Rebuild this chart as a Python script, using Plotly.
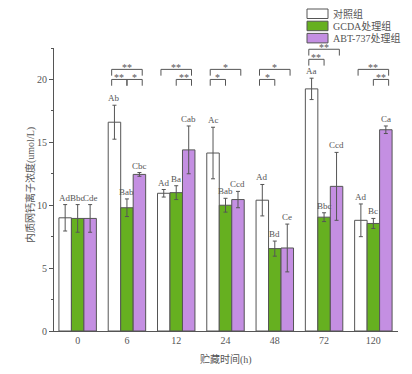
import plotly.graph_objects as go

# ---- data ----
times = ["0", "6", "12", "24", "48", "72", "120"]
series_names = ["对照组", "GCDA处理组", "ABT-737处理组"]

ctrl = [9.0, 16.6, 10.95, 14.15, 10.4, 19.25, 8.8]
ctrl_err = [1.05, 1.35, 0.3, 2.05, 1.25, 0.85, 1.3]
gcda = [8.95, 9.8, 11.0, 10.0, 6.55, 9.05, 8.55]
gcda_err = [1.1, 0.7, 0.55, 0.55, 0.6, 0.35, 0.4]
abt = [8.95, 12.45, 14.4, 10.45, 6.6, 11.5, 16.0]
abt_err = [1.1, 0.15, 1.9, 0.65, 1.9, 2.7, 0.3]

ctrl_letters = ["Ad", "Ab", "Ad", "Ac", "Ad", "Aa", "Ad"]
gcda_letters = ["Bbc", "Bab", "Ba", "Bab", "Bd", "Bbc", "Bc"]
abt_letters = ["Cde", "Cbc", "Cab", "Ccd", "Ce", "Ccd", "Ca"]

# significance brackets: group index, level (0 lower / 1 upper), bar i, bar j, label
br_group = [1, 1, 1, 2, 2, 3, 3, 4, 4, 5, 5, 6, 6]
br_level = [1, 0, 0, 1, 0, 1, 0, 1, 0, 1, 0, 1, 0]
br_i = [0, 0, 1, 0, 1, 0, 0, 0, 0, 0, 0, 0, 1]
br_j = [2, 1, 2, 2, 2, 2, 1, 2, 1, 2, 1, 2, 2]
br_label = ["**", "**", "*", "**", "**", "*", "*", "*", "*", "**", "**", "**", "**"]

# ---- styles ----
GRAY = "#555555"
FONT = "Liberation Serif, Noto Sans CJK SC"
fills = ["#ffffff", "#66b020", "#c48fe2"]
values = [ctrl, gcda, abt]
errors = [ctrl_err, gcda_err, abt_err]
letters = [ctrl_letters, gcda_letters, abt_letters]

x_idx = list(range(len(times)))
bargap = 0.24
bw = (1 - bargap) / 3
offsets = [-bw, 0.0, bw]

fig = go.Figure()
for k in range(3):
    fig.add_trace(go.Bar(
        x=x_idx, y=values[k], name=series_names[k],
        marker=dict(color=fills[k], line=dict(color=GRAY, width=1)),
        error_y=dict(type="data", array=errors[k], color=GRAY, thickness=1, width=2),
        showlegend=False, hoverinfo="skip",
    ))

annotations = []
shapes = []

# letters above error bars
for k in range(3):
    for g in x_idx:
        annotations.append(dict(
            x=g + offsets[k], y=values[k][g] + errors[k][g], xref="x", yref="y",
            text=letters[k][g], showarrow=False, yanchor="bottom", yshift=0,
            font=dict(family=FONT, size=9, color=GRAY)))

# brackets
ends = [-0.31, 0.0, 0.31]
leg = 0.5
for n in range(len(br_group)):
    g = br_group[n]
    top = max(values[k][g] + errors[k][g] for k in range(3))
    base = max(20.0, top + 1.5)
    y = base + 0.8 * br_level[n]
    x0 = g + ends[br_i[n]]
    x1 = g + ends[br_j[n]]
    shapes.append(dict(type="path", xref="x", yref="y",
                       path=f"M {x0},{y-leg} L {x0},{y} L {x1},{y} L {x1},{y-leg}",
                       line=dict(color=GRAY, width=1)))
    annotations.append(dict(x=(x0 + x1) / 2, y=y, xref="x", yref="y", text=br_label[n],
                            showarrow=False, yanchor="middle", yshift=2,
                            font=dict(family=FONT, size=10, color=GRAY)))

# manual legend (paper coords)
plot_l, plot_r, plot_t, plot_b = 54, 398, 48, 331
W, H = plot_r - plot_l, plot_b - plot_t
def px(xp):
    return (xp - plot_l) / W
def py(yp):
    return (plot_b - yp) / H
for k in range(3):
    y0 = 9 + 12.2 * k
    shapes.append(dict(type="rect", xref="paper", yref="paper",
                       x0=px(307), x1=px(328), y0=py(y0 + 9.5), y1=py(y0),
                       fillcolor=fills[k], line=dict(color=GRAY, width=1)))
    annotations.append(dict(x=px(331), y=py(y0 + 4.75), xref="paper", yref="paper",
                            text=series_names[k], showarrow=False, xanchor="left",
                            yanchor="middle", font=dict(family=FONT, size=10, color=GRAY)))

# axis titles
annotations.append(dict(x=px(30), y=py(185), xref="paper", yref="paper",
                        text="内质网钙离子浓度(umol/L)", textangle=-90, showarrow=False,
                        xanchor="center", yanchor="middle",
                        font=dict(family=FONT, size=10, color=GRAY)))
annotations.append(dict(x=0.5, y=py(359), xref="paper", yref="paper",
                        text="贮藏时间(h)", showarrow=False, yanchor="middle",
                        font=dict(family=FONT, size=10, color=GRAY)))

fig.update_layout(
    width=412, height=374,
    margin=dict(l=plot_l, r=412 - plot_r, t=plot_t, b=374 - plot_b),
    paper_bgcolor="white", plot_bgcolor="white",
    barmode="group", bargap=bargap, bargroupgap=0,
    showlegend=False, hovermode=False,
    shapes=shapes, annotations=annotations,
    font=dict(family=FONT, size=10, color=GRAY),
    xaxis=dict(range=[-0.48, 6.5], tickvals=x_idx, ticktext=times,
               showline=True, linecolor=GRAY, linewidth=1, ticks="",
               showgrid=False, zeroline=False,
               tickfont=dict(family=FONT, size=10, color=GRAY)),
    yaxis=dict(range=[0, 22.5], tickvals=[0, 5, 10, 15, 20],
               showline=True, linecolor=GRAY, linewidth=1,
               ticks="outside", ticklen=4, tickcolor=GRAY,
               minor=dict(ticks="outside", dtick=2.5, ticklen=2, tickcolor=GRAY),
               showgrid=False, zeroline=False,
               tickfont=dict(family=FONT, size=10, color=GRAY)),
)

fig.write_html("out.html", config={"displayModeBar": False, "staticPlot": True},
               post_script="document.body.style.margin='0';document.body.style.overflow='hidden';")
